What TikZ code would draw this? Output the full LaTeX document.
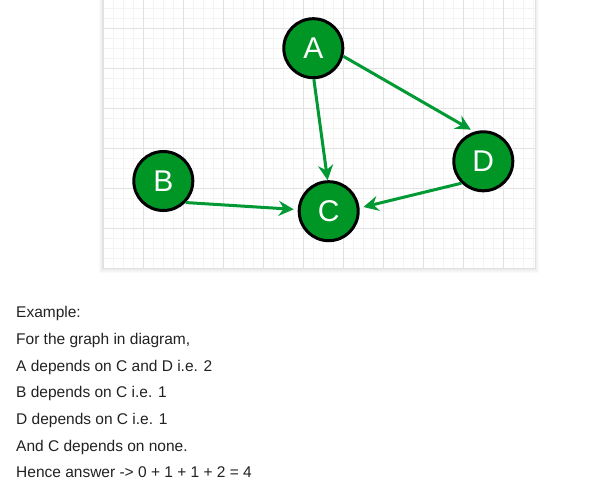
\documentclass[tikz,border=0pt]{standalone}
\usepackage{fontspec}
\setmainfont{Liberation Sans}
\newfontfamily\nodefont{Liberation Sans}
\usetikzlibrary{arrows.meta}
\definecolor{gnode}{RGB}{0,150,38}
\definecolor{gline}{RGB}{0,153,51}
\definecolor{gmajor}{RGB}{226,226,226}
\definecolor{gminor}{RGB}{243,243,243}
\definecolor{txt}{RGB}{34,34,34}
\tikzset{
  vert/.style={circle, draw=black, line width=3pt, fill=gnode, minimum size=59pt, inner sep=0pt,
    text=white, font=\nodefont\fontsize{30}{34}\selectfont},
  arr/.style={draw=gline, line width=3pt, -{Stealth[length=15pt,width=15pt,inset=5pt]}},
  line/.style={anchor=base west, inner sep=0pt, text=txt, font=\fontsize{15.5}{18}\selectfont},
  minorl/.style={gminor, line width=0.8pt},
  majorl/.style={gmajor, line width=1pt}
}
\begin{document}
\begin{tikzpicture}[x=1pt,y=-1pt]
\useasboundingbox (0,0) rectangle (613,490);
\fill[white] (0,0) rectangle (613,490);
% panel shadow
\foreach \o/\c in {4/97,3/95,2/93,1/91}{
  \fill[black!\the\numexpr100-\c\relax, opacity=0.5] (102.5-\o,0) rectangle (535+\o,268.5+\o);
}
\fill[white] (102.5,0) rectangle (535,268.5);
% minor grid
\foreach \i in {0,...,43}{
  \draw[minorl] (103.3+10*\i,0) -- (103.3+10*\i,268.5);
}
\foreach \j in {0,...,26}{
  \draw[minorl] (102.5,8.3+10*\j) -- (535,8.3+10*\j);
}
% major grid
\foreach \i in {0,...,10}{
  \draw[majorl] (103.3+40*\i,0) -- (103.3+40*\i,268.5);
}
\foreach \j in {0,...,6}{
  \draw[majorl] (102.5,28.3+40*\j) -- (535,28.3+40*\j);
}
\draw[majorl] (102.5,0) -- (102.5,268.5) -- (535,268.5) -- (535,0);
% nodes
\node[vert] (A) at (313.3,48.2) {A};
\node[vert] (B) at (163.3,181) {B};
\node[vert] (C) at (328.7,211.2) {C};
\node[vert] (D) at (483.3,161.3) {D};
% edges
\draw[arr] (A.-89) -- (C.92);
\draw[arr, shorten >=4pt] (A.-15) -- (D.107);
\draw[arr, shorten >=4pt] (B.-44) -- (C.177);
\draw[arr, shorten >=4pt] (D.-135) -- (C.6);
% text
\node[line] (t1) at (16,317.7) {Example:};
\node[line] (t2) at (16,344.4) {For the graph in diagram,};
\node[line] (t3) at (16,371) {A depends on C and D i.e. 2};
\node[line] (t4) at (16,397.7) {B depends on C i.e. 1};
\node[line] (t5) at (16,424.4) {D depends on C i.e. 1};
\node[line] (t6) at (16,451) {And C depends on none.};
\node[line] (t7) at (16,477.7) {Hence answer -> 0 + 1 + 1 + 2 = 4};
\end{tikzpicture}
\end{document}
